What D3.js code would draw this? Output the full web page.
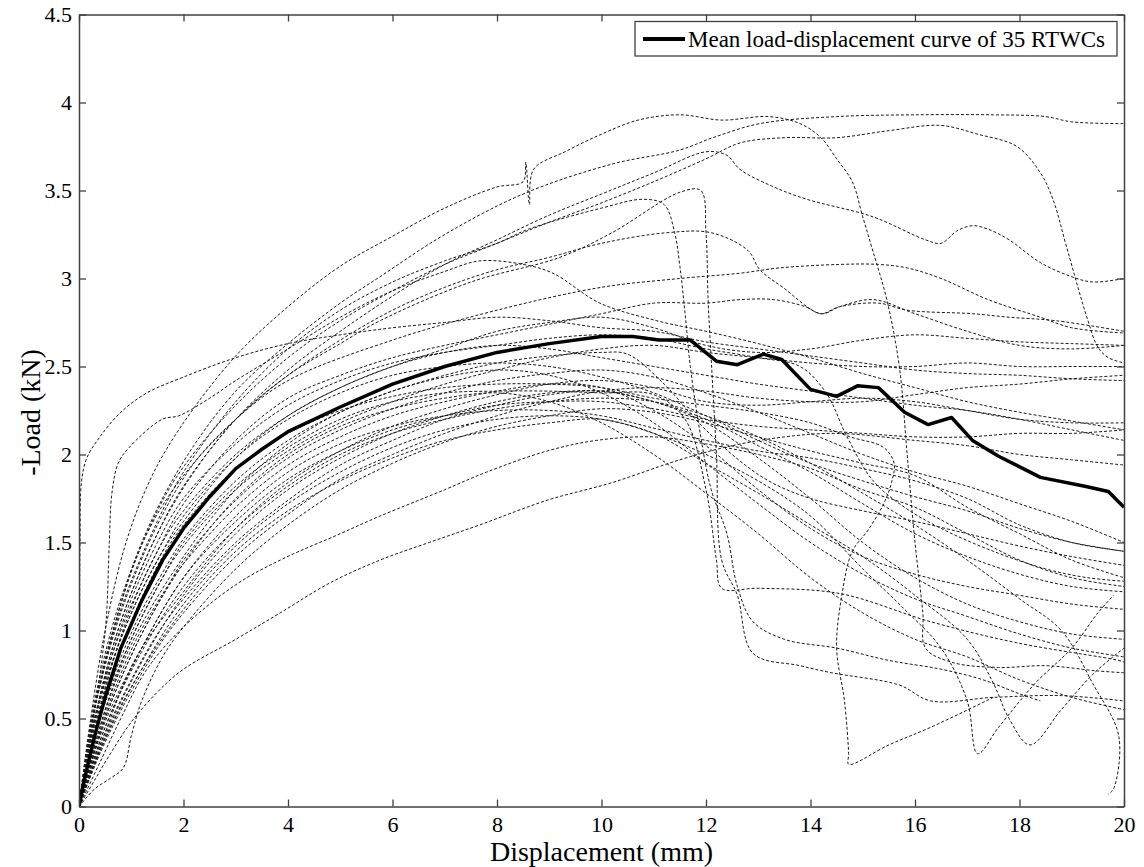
<!DOCTYPE html>
<html>
<head>
<meta charset="utf-8">
<script src="https://cdn.jsdelivr.net/npm/d3@7"></script>
<style>
  html, body { margin: 0; padding: 0; background: #fff; }
  svg { display: block; }
  svg text { font-family: "Liberation Serif", "Times New Roman", serif; fill: #000; }
</style>
</head>
<body>
<svg id="chart" width="1144" height="867"></svg>
<script>
// Axis ticks
const xTicks = [0, 2, 4, 6, 8, 10, 12, 14, 16, 18, 20];
const yTicks = [0, 0.5, 1, 1.5, 2, 2.5, 3, 3.5, 4, 4.5];

// Mean load-displacement curve: [displacement (mm), -load (kN)]
const meanCurve = [
  [0,0],[0.1,0.15],[0.3,0.4],[0.5,0.62],[0.8,0.9],[1.2,1.17],[1.6,1.4],[2.0,1.58],
  [2.5,1.76],[3.0,1.92],[3.5,2.03],[4.0,2.13],[5.0,2.27],[6.0,2.4],[7.0,2.5],[8.0,2.58],
  [9.0,2.63],[10.0,2.67],[10.6,2.67],[11.1,2.65],[11.7,2.65],[12.2,2.53],[12.6,2.51],
  [13.1,2.57],[13.45,2.54],[14.0,2.37],[14.5,2.33],[14.9,2.39],[15.3,2.38],[15.8,2.24],
  [16.25,2.17],[16.7,2.21],[17.1,2.08],[17.6,1.99],[18.4,1.87],[19.25,1.82],[19.7,1.79],[20,1.70]
];

// Individual specimens, stiffer group
const stiffSpecimens = [
  [[0,0],[0.01,0.8],[0.02,1.5],[0.05,1.85],[0.15,1.98],[0.4,2.1],[0.8,2.24],[1.3,2.35],[2,2.44],[3,2.55],[4,2.63],[5,2.68],[6,2.72],[7,2.75],[8,2.78],[9,2.76],[10,2.72],[11,2.7],[12,2.64],[13,2.6],[14,2.56],[15,2.52],[16,2.48],[17,2.46],[18,2.45],[19,2.43],[20,2.42]],
  [[0,0],[0.2,0.35],[0.4,0.75],[0.52,1.06],[0.58,1.5],[0.63,1.78],[0.75,1.95],[0.96,2.04],[1.59,2.2],[1.91,2.22],[2.5,2.32],[3,2.42],[4,2.6],[5,2.78],[6,2.93],[7,3.04],[7.67,3.1],[8.5,3.08],[9.07,3.03],[9.97,2.86],[11.06,2.76],[12,2.7],[13,2.63],[14,2.55],[15,2.46],[16,2.38],[17,2.3],[18,2.24],[19,2.19],[20,2.14]],
  [[0,0],[0.2,0.45],[0.5,1.0],[0.9,1.5],[1.4,1.88],[2,2.18],[3,2.56],[4,2.84],[5,3.07],[6,3.24],[7,3.4],[8,3.52],[8.5,3.55],[8.55,3.66],[8.62,3.42],[8.7,3.62],[9.3,3.72],[10,3.82],[10.7,3.9],[11.5,3.93],[12.3,3.9],[13.2,3.92],[13.8,3.88],[14.2,3.8],[14.5,3.68],[14.8,3.55],[15.0,3.35],[15.2,3.15],[15.46,2.88],[15.7,2.5],[15.85,2.0],[16.0,1.5],[16.15,1.1],[16.2,0.9],[16.7,0.82],[17.6,0.79],[18.5,0.8],[19.5,0.77],[20,0.76]],
  [[0,0],[0.3,0.55],[0.7,1.05],[1.2,1.5],[2,1.96],[3,2.36],[4,2.63],[5,2.86],[5.76,3.01],[7,3.25],[8.5,3.48],[10.2,3.65],[11.5,3.73],[12.13,3.8],[13.03,3.88],[14.5,3.92],[16,3.93],[17.5,3.93],[18.5,3.92],[19,3.89],[20,3.88]],
  [[0,0],[0.3,0.5],[0.8,1.05],[1.5,1.55],[2,1.82],[3,2.2],[4,2.48],[5,2.7],[6,2.9],[7,3.08],[8,3.22],[9,3.36],[10,3.48],[11,3.6],[12,3.72],[12.4,3.7],[12.65,3.62],[13.3,3.52],[13.93,3.45],[15.2,3.35],[16.2,3.22],[16.5,3.2],[16.8,3.27],[17.1,3.3],[17.4,3.28],[17.8,3.22],[18.4,3.09],[19.0,3.01],[19.4,2.98],[20,3.0]],
  [[0,0],[0.3,0.6],[0.8,1.18],[1.5,1.68],[2,1.93],[3,2.28],[4,2.55],[5,2.76],[6,2.93],[7,3.08],[8,3.2],[9,3.32],[10,3.43],[11,3.55],[12,3.68],[12.65,3.77],[13.5,3.8],[14.5,3.8],[15.5,3.84],[16.48,3.87],[17.2,3.82],[17.95,3.75],[18.4,3.6],[18.64,3.45],[18.9,3.18],[19.3,2.77],[19.5,2.61],[19.7,2.55],[20,2.52]],
  [[0,0],[0.3,0.5],[0.8,1.05],[1.5,1.55],[2.2,1.9],[3,2.2],[4,2.45],[5,2.63],[5.76,2.76],[7.5,2.98],[9.2,3.12],[10.2,3.26],[11.5,3.49],[11.9,3.5],[12.0,3.26],[12.04,2.88],[12.1,2.54],[12.2,2.0],[12.3,1.4],[12.6,1.2],[12.9,0.87],[13.8,0.8],[14.4,0.76],[15.7,0.69],[16.3,0.6],[17.5,0.62],[18.8,0.63],[20,0.6]],
  [[0,0],[0.3,0.55],[0.8,1.12],[1.5,1.62],[2,1.9],[3,2.3],[4,2.6],[5,2.82],[6,2.98],[7,3.1],[8,3.2],[8.6,3.28],[10,3.4],[10.8,3.45],[11.2,3.42],[11.4,3.26],[11.5,3.07],[11.6,2.8],[11.7,2.5],[11.9,2.1],[12.1,1.8],[12.4,1.55],[12.6,1.25],[12.9,1.05],[13.5,0.95],[14.5,0.9],[15.5,0.83],[16.5,0.78],[17.3,0.72],[18,0.64],[18.4,0.6]],
  [[0,0],[0.3,0.55],[0.8,1.1],[1.5,1.6],[2.2,1.95],[3,2.2],[4,2.42],[6,2.65],[8,2.82],[10,2.95],[11.5,3.0],[12.65,3.03],[13.4,3.06],[14.56,3.08],[15.3,3.08],[15.85,3.06],[16.5,3.0],[17.4,2.88],[18.4,2.78],[19.0,2.72],[20,2.69]],
  [[0,0],[0.25,0.5],[0.7,1.05],[1.3,1.55],[2,1.88],[3,2.2],[4,2.45],[5,2.65],[6,2.82],[7,2.95],[8,3.05],[9,3.12],[10,3.2],[11.25,3.26],[12.1,3.26],[12.8,3.16],[13.03,3.05],[13.47,2.95],[14.2,2.8],[14.56,2.84],[15.2,2.88],[16,2.8],[17,2.7],[18,2.62],[19,2.6],[20,2.62]]
];

// Individual specimens, intermediate group
const middleSpecimens = [
  [[0,0],[0.3,0.5],[0.8,1.0],[1.5,1.45],[2,1.72],[3,2.08],[4,2.32],[5,2.45],[6,2.55],[7,2.62],[8,2.68],[9,2.74],[10,2.8],[11,2.86],[12,2.86],[12.65,2.88],[13.3,2.88],[13.9,2.84],[14.2,2.8],[14.56,2.84],[15.3,2.86],[15.85,2.82],[17.1,2.8],[17.8,2.78],[18.7,2.76],[20,2.7]],
  [[0,0],[0.4,0.55],[0.9,1.05],[1.5,1.45],[2,1.68],[3,2.0],[4,2.22],[5,2.38],[6,2.5],[7,2.6],[8,2.7],[9,2.75],[10,2.78],[11,2.72],[12,2.62],[13,2.58],[14,2.6],[15,2.65],[16,2.68],[17,2.66],[18,2.64],[19,2.63],[20,2.62]],
  [[0,0],[0.4,0.6],[0.9,1.1],[1.5,1.5],[2,1.75],[3,2.06],[4,2.28],[5,2.42],[6,2.52],[7,2.58],[8,2.62],[9,2.66],[10,2.68],[11,2.66],[12,2.6],[13,2.55],[13.8,2.5],[14.3,2.35],[14.7,2.1],[15.2,1.85],[15.8,1.7],[16.5,1.58],[17.5,1.45],[18.5,1.35],[19.3,1.3],[20,1.28]],
  [[0,0],[0.4,0.55],[1,1.05],[1.6,1.42],[2,1.6],[3,1.92],[4,2.12],[5,2.25],[6,2.33],[7,2.38],[8,2.4],[9,2.4],[10,2.38],[11,2.32],[12,2.28],[13,2.24],[14,2.18],[14.76,2.1],[15.4,2.04],[15.6,1.95],[15.55,1.84],[15.4,1.72],[15.1,1.57],[14.8,1.45],[14.6,1.2],[14.5,0.9],[14.65,0.6],[14.73,0.3],[14.73,0.24],[15.5,0.35],[16.3,0.45],[17.5,0.62]],
  [[0,0],[0.3,0.45],[0.8,0.95],[1.5,1.4],[2,1.62],[3,1.98],[4,2.22],[5,2.38],[6,2.5],[7,2.58],[8,2.62],[9,2.6],[10,2.55],[11,2.5],[12,2.45],[13,2.4],[14,2.36],[15,2.32],[16,2.28],[17,2.25],[18,2.2],[19,2.14],[20,2.08]],
  [[0,0],[0.4,0.6],[1,1.1],[1.6,1.45],[2,1.65],[3,1.98],[4,2.2],[5,2.35],[6,2.45],[7,2.5],[8,2.52],[9,2.5],[10,2.44],[11,2.35],[12,2.22],[13,2.08],[14,1.95],[15,1.85],[16,1.76],[17,1.68],[18,1.58],[19,1.5],[20,1.45]],
  [[0,0],[0.4,0.5],[1,0.95],[1.6,1.3],[2,1.5],[3,1.82],[4,2.04],[5,2.2],[6,2.3],[7,2.35],[8,2.36],[9,2.36],[10,2.35],[11,2.34],[11.6,2.2],[12.0,1.8],[12.2,1.4],[12.3,1.24],[13.0,1.24],[14.56,1.21],[16.3,1.05],[17.95,0.93],[19.9,0.83],[20,0.82]],
  [[0,0],[0.5,0.55],[1,0.95],[1.6,1.3],[2,1.48],[3,1.8],[4,2.02],[5,2.18],[6,2.3],[7,2.4],[8,2.48],[9,2.55],[10,2.6],[11,2.62],[12,2.58],[13,2.55],[14,2.52],[15,2.5],[16,2.5],[17,2.52],[18,2.5],[19,2.5],[20,2.5]],
  [[0,0],[0.5,0.6],[1.1,1.05],[1.7,1.38],[2,1.52],[3,1.85],[4,2.08],[5,2.24],[6,2.36],[7,2.45],[8,2.52],[9,2.56],[10,2.58],[10.5,2.57],[11.2,2.4],[11.8,2.2],[12.5,2.0],[13.2,1.85],[14,1.75],[15,1.68],[16,1.62],[17,1.55],[18,1.48],[19,1.42],[20,1.37]],
  [[0,0],[0.5,0.5],[1.1,0.92],[1.7,1.25],[2,1.4],[3,1.74],[4,1.98],[5,2.14],[6,2.26],[7,2.35],[8,2.42],[9,2.46],[10,2.48],[11,2.44],[12,2.35],[13,2.24],[14,2.12],[15,2.0],[16,1.9],[17,1.82],[18,1.72],[19,1.62],[20,1.5]],
  [[0,0],[0.5,0.52],[1.1,0.95],[1.8,1.3],[2,1.38],[3,1.7],[4,1.94],[5,2.1],[6,2.22],[7,2.3],[8,2.36],[9,2.4],[10,2.38],[11,2.25],[12,2.05],[13,1.8],[14,1.58],[15,1.42],[16,1.32],[17,1.25],[18,1.2],[19,1.15],[20,1.12]],
  [[0,0],[0.5,0.48],[1.2,0.9],[2,1.3],[3,1.62],[4,1.86],[5,2.02],[6,2.14],[7,2.22],[8,2.28],[9,2.3],[10,2.3],[11,2.26],[12,2.2],[13,2.16],[14,2.14],[15,2.12],[16,2.1],[17,2.1],[18,2.12],[19,2.12],[20,2.14]],
  [[0,0],[0.5,0.45],[1.2,0.88],[2,1.25],[3,1.58],[4,1.82],[5,2.0],[6,2.12],[7,2.2],[8,2.26],[9,2.3],[10,2.32],[11,2.3],[12,2.22],[13,2.1],[14,1.95],[15,1.78],[16,1.6],[17,1.4],[18,1.18],[18.8,1.0],[19.4,0.7],[19.9,0.4],[19.8,0.1],[19.7,0.07]]
];

// Individual specimens, softer group
const softSpecimens = [
  [[0,0],[0.3,0.15],[0.6,0.3],[1.0,0.48],[1.5,0.65],[2,0.78],[3,0.95],[3.85,1.1],[4.8,1.27],[5.76,1.4],[6.7,1.5],[7.67,1.6],[8.96,1.74],[10.2,1.84],[11.5,1.97],[12.5,2.05],[13.5,2.1],[14.5,2.12],[16,2.08],[17,2.05],[18,2.0],[19,1.97],[20,1.94]],
  [[0,0],[0.4,0.25],[0.8,0.5],[1.3,0.78],[2,1.02],[3,1.26],[3.85,1.4],[5,1.55],[5.76,1.65],[7.0,1.8],[7.8,1.9],[8.96,2.02],[9.9,2.08],[11,2.1],[12,2.06],[13,2.0],[14,1.92],[15,1.8],[16,1.7],[17,1.55],[18,1.4],[19,1.3],[20,1.25]],
  [[0,0],[0.3,0.1],[0.6,0.16],[0.85,0.22],[1.0,0.4],[1.2,0.6],[1.6,0.85],[2,1.02],[3,1.35],[4,1.6],[5,1.8],[6,1.95],[7,2.07],[8,2.16],[9,2.22],[10,2.26],[11,2.24],[12,2.18],[13,2.1],[14,2.02],[15,1.95],[16,1.88],[17,1.7],[18,1.55],[19,1.4],[20,1.3]],
  [[0,0],[0.4,0.3],[0.9,0.6],[1.5,0.9],[2,1.1],[3,1.42],[4,1.66],[5,1.86],[6,2.0],[7,2.12],[8,2.22],[9,2.3],[10,2.36],[11,2.38],[12,2.36],[13,2.32],[14,2.3],[15,2.3],[16,2.34],[17,2.38],[18,2.4],[19,2.43],[20,2.45]],
  [[0,0],[0.4,0.35],[1,0.72],[1.5,0.98],[2,1.18],[3,1.5],[4,1.74],[5,1.94],[6,2.08],[7,2.2],[8,2.28],[9,2.34],[10,2.36],[11,2.3],[12,2.18],[13,1.98],[14,1.75],[15,1.5],[16,1.3],[17,1.15],[18,1.05],[19,0.98],[20,0.95]],
  [[0,0],[0.4,0.32],[1,0.68],[2,1.12],[3,1.45],[4,1.68],[5,1.85],[6,1.98],[7,2.08],[8,2.14],[9,2.18],[10,2.2],[11,2.12],[12,2.0],[13,1.85],[14,1.65],[15,1.35],[15.8,1.12],[16.5,0.9],[17.0,0.6],[17.2,0.3],[17.6,0.45],[18.3,0.7],[19,0.9],[19.5,1.1],[19.8,1.2]],
  [[0,0],[0.5,0.4],[1.2,0.82],[2,1.2],[3,1.55],[4,1.8],[5,1.98],[6,2.12],[7,2.22],[8,2.3],[9,2.35],[10,2.36],[11,2.3],[12,2.2],[13,2.05],[14,1.9],[15,1.72],[16,1.55],[17,1.42],[18,1.32],[19,1.25],[20,1.22]],
  [[0,0],[0.5,0.38],[1.2,0.78],[2,1.15],[3,1.48],[4,1.72],[5,1.9],[6,2.04],[7,2.14],[8,2.2],[9,2.22],[10,2.2],[11,2.12],[12,1.95],[13,1.78],[14,1.6],[15,1.42],[16,1.2],[17,0.95],[17.5,0.7],[17.8,0.5],[18.2,0.35],[18.8,0.55],[19.4,0.75],[20,0.9]],
  [[0,0],[0.5,0.45],[1.2,0.9],[2,1.3],[3,1.65],[4,1.9],[5,2.06],[6,2.16],[7,2.22],[8,2.25],[9,2.25],[10,2.22],[11,2.15],[12,2.08],[13,2.02],[14,1.98],[15,1.92],[16,1.85],[17,1.75],[18,1.6],[19,1.5],[20,1.45]],
  [[0,0],[0.5,0.42],[1.1,0.85],[2,1.22],[3,1.58],[4,1.84],[5,2.02],[6,2.16],[7,2.26],[8,2.34],[9,2.4],[10,2.42],[11,2.38],[12,2.3],[13,2.28],[14,2.3],[15,2.32],[16,2.3],[17,2.25],[18,2.2],[19,2.18],[20,2.18]],
  [[0,0],[0.5,0.5],[1.2,0.98],[2,1.38],[3,1.75],[4,2.0],[5,2.16],[6,2.26],[7,2.32],[8,2.35],[9,2.3],[10,2.18],[11,2.0],[12,1.78],[13,1.55],[14,1.3],[15,1.1],[16,0.95],[17,0.85],[18,0.72],[19,0.62],[20,0.55]],
  [[0,0],[0.4,0.45],[1,0.92],[2,1.42],[3,1.8],[4,2.06],[5,2.24],[6,2.36],[7,2.44],[8,2.48],[9,2.45],[10,2.35],[11,2.18],[12,1.95],[13,1.72],[14,1.5],[15,1.32],[16,1.18],[17,1.08],[18,0.98],[19,0.9],[20,0.85]]
];

const legendLabel = "Mean load-displacement curve of 35 RTWCs";
const xTitle = "Displacement (mm)";
const yTitle = "-Load (kN)";

const serif = '"Liberation Serif", "Times New Roman", Times, serif';

// Layout
const svg = d3.select("#chart");
const plot = { left: 79, right: 1124, top: 14.5, bottom: 806.5 };

const x = d3.scaleLinear().domain([0, 20]).range([plot.left, plot.right]);
const y = d3.scaleLinear().domain([0, 4.5]).range([plot.bottom, plot.top]);

// Clip region for the data
svg.append("defs").append("clipPath").attr("id", "plotClip")
  .append("rect")
  .attr("x", plot.left).attr("y", plot.top)
  .attr("width", plot.right - plot.left).attr("height", plot.bottom - plot.top);

const line = d3.line()
  .x(d => x(d[0]))
  .y(d => y(d[1]))
  .curve(d3.curveCatmullRom.alpha(0.5));

const dataLayer = svg.append("g").attr("clip-path", "url(#plotClip)");

// Specimen curves: thin dashed lines
const specimens = [...stiffSpecimens, ...middleSpecimens, ...softSpecimens];
dataLayer.selectAll("path.specimen")
  .data(specimens)
  .enter().append("path")
  .attr("class", "specimen")
  .attr("d", line)
  .attr("fill", "none")
  .attr("stroke", "#1a1a1a")
  .attr("stroke-width", 1)
  .attr("stroke-dasharray", "3,2");

// Mean curve: thick solid line
dataLayer.append("path")
  .datum(meanCurve)
  .attr("d", d3.line().x(d => x(d[0])).y(d => y(d[1])))
  .attr("fill", "none")
  .attr("stroke", "#000")
  .attr("stroke-width", 3.5)
  .attr("stroke-linejoin", "round");

// Axes: ticks point inward on all four sides
const tickLen = 7;
const axisColor = "#404040";

const bottomAxis = svg.append("g")
  .attr("transform", `translate(0,${plot.bottom})`)
  .call(d3.axisBottom(x).tickValues(xTicks).tickSizeInner(-tickLen).tickSizeOuter(0).tickPadding(10).tickFormat(d3.format("d")));
const topAxis = svg.append("g")
  .attr("transform", `translate(0,${plot.top})`)
  .call(d3.axisTop(x).tickValues(xTicks).tickSizeInner(-tickLen).tickSizeOuter(0).tickFormat(""));
const leftAxis = svg.append("g")
  .attr("transform", `translate(${plot.left},0)`)
  .call(d3.axisLeft(y).tickValues(yTicks).tickSizeInner(-tickLen).tickSizeOuter(0).tickPadding(7).tickFormat(d => String(d)));
const rightAxis = svg.append("g")
  .attr("transform", `translate(${plot.right},0)`)
  .call(d3.axisRight(y).tickValues(yTicks).tickSizeInner(-tickLen).tickSizeOuter(0).tickFormat(""));

[bottomAxis, topAxis, leftAxis, rightAxis].forEach(g => {
  g.attr("font-family", serif).attr("font-size", 22);
  g.select(".domain").attr("stroke", axisColor).attr("stroke-width", 1.5);
  g.selectAll(".tick line").attr("stroke", axisColor).attr("stroke-width", 1.3);
  g.selectAll(".tick text")
    .attr("font-family", serif)
    .attr("font-size", 22)
    .attr("fill", "#000");
});

// Axis titles
svg.append("text")
  .attr("x", (plot.left + plot.right) / 2)
  .attr("y", 861)
  .attr("text-anchor", "middle")
  .attr("font-family", serif)
  .attr("font-size", 28)
  .text(xTitle);

svg.append("text")
  .attr("transform", `translate(40,${(plot.top + plot.bottom) / 2 + 2}) rotate(-90)`)
  .attr("text-anchor", "middle")
  .attr("font-family", serif)
  .attr("font-size", 28)
  .text(yTitle);

// Legend
const legend = svg.append("g");
legend.append("rect")
  .attr("x", 635).attr("y", 21.5)
  .attr("width", 482).attr("height", 34.5)
  .attr("fill", "#fff")
  .attr("stroke", axisColor)
  .attr("stroke-width", 1.3);
legend.append("line")
  .attr("x1", 643).attr("x2", 685)
  .attr("y1", 39).attr("y2", 39)
  .attr("stroke", "#000")
  .attr("stroke-width", 4);
legend.append("text")
  .attr("x", 688).attr("y", 46.5)
  .attr("font-family", serif)
  .attr("font-size", 23)
  .text(legendLabel);
</script>
</body>
</html>
